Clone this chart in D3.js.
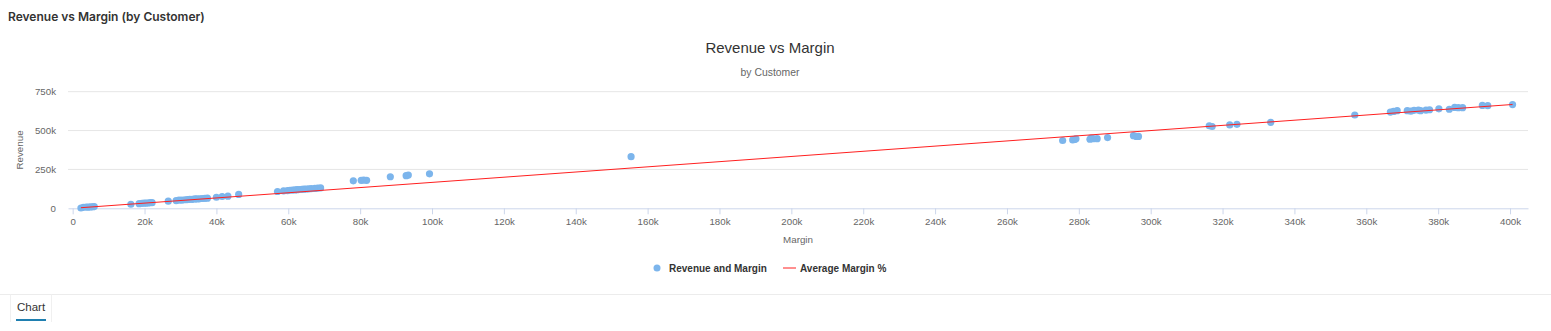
<!DOCTYPE html>
<html><head><meta charset="utf-8">
<script src="https://cdn.jsdelivr.net/npm/d3@7"></script>
<style>body{margin:0;background:#fff;overflow:hidden} svg{display:block}</style>
</head><body><svg id="c" width="1551" height="331"></svg>
<script>
// Margin (x) and Revenue (y) per customer, in dollars
const margins = [2300,3000,3800,4400,5000,5600,6000,
  16200,
  18500,19300,19900,20500,21000,21600,22100,
  26600,
  28800,29600,30400,31300,32000,32600,33300,34000,34600,35300,36000,36800,37500,
  40000,41600,43200,46200,
  57000,58700,59800,60500,61200,61900,62500,63100,63800,64400,65000,65700,66400,67400,68200,69000,
  78100,80300,81000,81800,
  88400,92800,93400,99300,
  155400,
  275500,278300,278800,279200,283100,283400,284000,285100,288000,295200,296000,296600,
  316300,317100,322000,324000,333400,
  356800,366700,367600,368600,371400,372400,373300,374500,375100,376600,377600,380200,383100,384600,385600,386800,392300,393800,400700];
const revenues = [2000,6000,7000,8000,9000,10000,11000,
  26000,
  30000,32000,33000,34000,34000,36000,36000,
  46000,
  50000,52000,53000,55000,56000,57000,58000,60000,60000,61000,63000,64000,65000,
  71000,76000,78000,89000,
  108000,112000,114000,116000,117000,118000,120000,121000,122000,123000,124000,125000,126000,128000,130000,131000,
  177000,180000,181000,180000,
  203000,210000,214000,222000,
  332000,
  436000,440000,443000,447000,444000,452000,448000,448000,455000,467000,462000,462000,
  531000,526000,536000,540000,553000,
  600000,619000,623000,628000,628000,625000,630000,632000,628000,632000,634000,640000,637000,649000,647000,647000,662000,660000,667000];
const avgMarginPct = 0.6;
const xTicks = [0,20000,40000,60000,80000,100000,120000,140000,160000,180000,200000,220000,240000,260000,280000,300000,320000,340000,360000,380000,400000];
const yTicks = [0,250000,500000,750000];
const xDomain = [-1300, 405000];
const yDomain = [0, 750000];

const svg = d3.select('#c');
const W = 1551;
const L = 68, R = 1528, T = 91.7, B = 208.3;
const FONT = '"Liberation Sans", Arial, sans-serif';
const x = d3.scaleLinear().domain(xDomain).range([L, R]);
const y = d3.scaleLinear().domain(yDomain).range([B, T]);
const fmt = v => v === 0 ? '0' : (v/1000) + 'k';

// header
svg.append('text').attr('x', 8).attr('y', 20.5).text('Revenue vs Margin (by Customer)')
  .attr('font-family', 'Inter, sans-serif').attr('font-weight', 600).attr('font-size', 12).attr('fill', '#333');

const cx = 770;
svg.append('text').attr('x', cx).attr('y', 53).attr('text-anchor', 'middle').text('Revenue vs Margin')
  .attr('font-family', FONT).attr('font-size', 15).attr('fill', '#333');
svg.append('text').attr('x', cx).attr('y', 76).attr('text-anchor', 'middle').text('by Customer')
  .attr('font-family', FONT).attr('font-size', 10.4).attr('fill', '#666');

// grid
svg.append('g').selectAll('line').data(yTicks.filter(d => d > 0)).join('line')
  .attr('x1', L).attr('x2', R).attr('y1', d => y(d)).attr('y2', d => y(d))
  .attr('stroke', '#e6e6e6').attr('stroke-width', 1);

// y axis
const yAxis = svg.append('g').attr('transform', `translate(${L},0)`)
  .call(d3.axisLeft(y).tickValues(yTicks).tickFormat(fmt).tickSize(0).tickPadding(12));
yAxis.select('.domain').remove();
yAxis.selectAll('text').attr('font-family', FONT).attr('font-size', 9.7).attr('fill', '#666');

// x axis
const xAxis = svg.append('g').attr('transform', `translate(0,${B})`)
  .call(d3.axisBottom(x).tickValues(xTicks).tickFormat(fmt).tickSize(6).tickSizeOuter(0).tickPadding(4));
xAxis.select('.domain').attr('stroke', '#ccd6eb');
xAxis.selectAll('.tick line').attr('stroke', '#ccd6eb');
xAxis.selectAll('text').attr('font-family', FONT).attr('font-size', 9.7).attr('fill', '#666');

// axis titles
svg.append('text').attr('x', (L + R) / 2).attr('y', 243).attr('text-anchor', 'middle').text('Margin')
  .attr('font-family', FONT).attr('font-size', 9.8).attr('fill', '#666');
svg.append('text').attr('transform', `translate(23,${(T + B) / 2}) rotate(-90)`).attr('text-anchor', 'middle').text('Revenue')
  .attr('font-family', FONT).attr('font-size', 9.8).attr('fill', '#666');

// points
const pts = margins.map((m, i) => ({m, r: revenues[i]}));
svg.append('g').selectAll('circle').data(pts).join('circle')
  .attr('cx', d => x(d.m)).attr('cy', d => y(d.r)).attr('r', 3.6).attr('fill', '#7cb5ec');

// average margin line
const mExt = d3.extent(margins);
svg.append('path').datum(mExt.map(m => ({m, r: m / avgMarginPct})))
  .attr('d', d3.line().x(d => x(d.m)).y(d => y(d.r)))
  .attr('stroke', '#ff2020').attr('stroke-width', 1).attr('fill', 'none');

// legend
const lg = svg.append('g');
lg.append('circle').attr('cx', 657).attr('cy', 268).attr('r', 3.5).attr('fill', '#7cb5ec');
lg.append('text').attr('x', 669).attr('y', 271.5).text('Revenue and Margin')
  .attr('font-family', FONT).attr('font-weight', 'bold').attr('font-size', 10).attr('fill', '#333');
lg.append('line').attr('x1', 783).attr('x2', 796).attr('y1', 268).attr('y2', 268).attr('stroke', '#ff2020').attr('stroke-width', 1);
lg.append('text').attr('x', 800).attr('y', 271.5).text('Average Margin %')
  .attr('font-family', FONT).attr('font-weight', 'bold').attr('font-size', 10).attr('fill', '#333');

// bottom tab bar
svg.append('line').attr('x1', 0).attr('x2', W).attr('y1', 294.5).attr('y2', 294.5).attr('stroke', '#ececec');
svg.append('path').attr('d', 'M10.5,322 V294.5 M51.5,294.5 V322').attr('stroke', '#f0f0f0').attr('fill', 'none');
svg.append('text').attr('x', 17).attr('y', 311).text('Chart')
  .attr('font-family', FONT).attr('font-size', 11.5).attr('fill', '#333');
svg.append('rect').attr('x', 16).attr('y', 319).attr('width', 30).attr('height', 2).attr('fill', '#1f7fb0');
</script></body></html>
